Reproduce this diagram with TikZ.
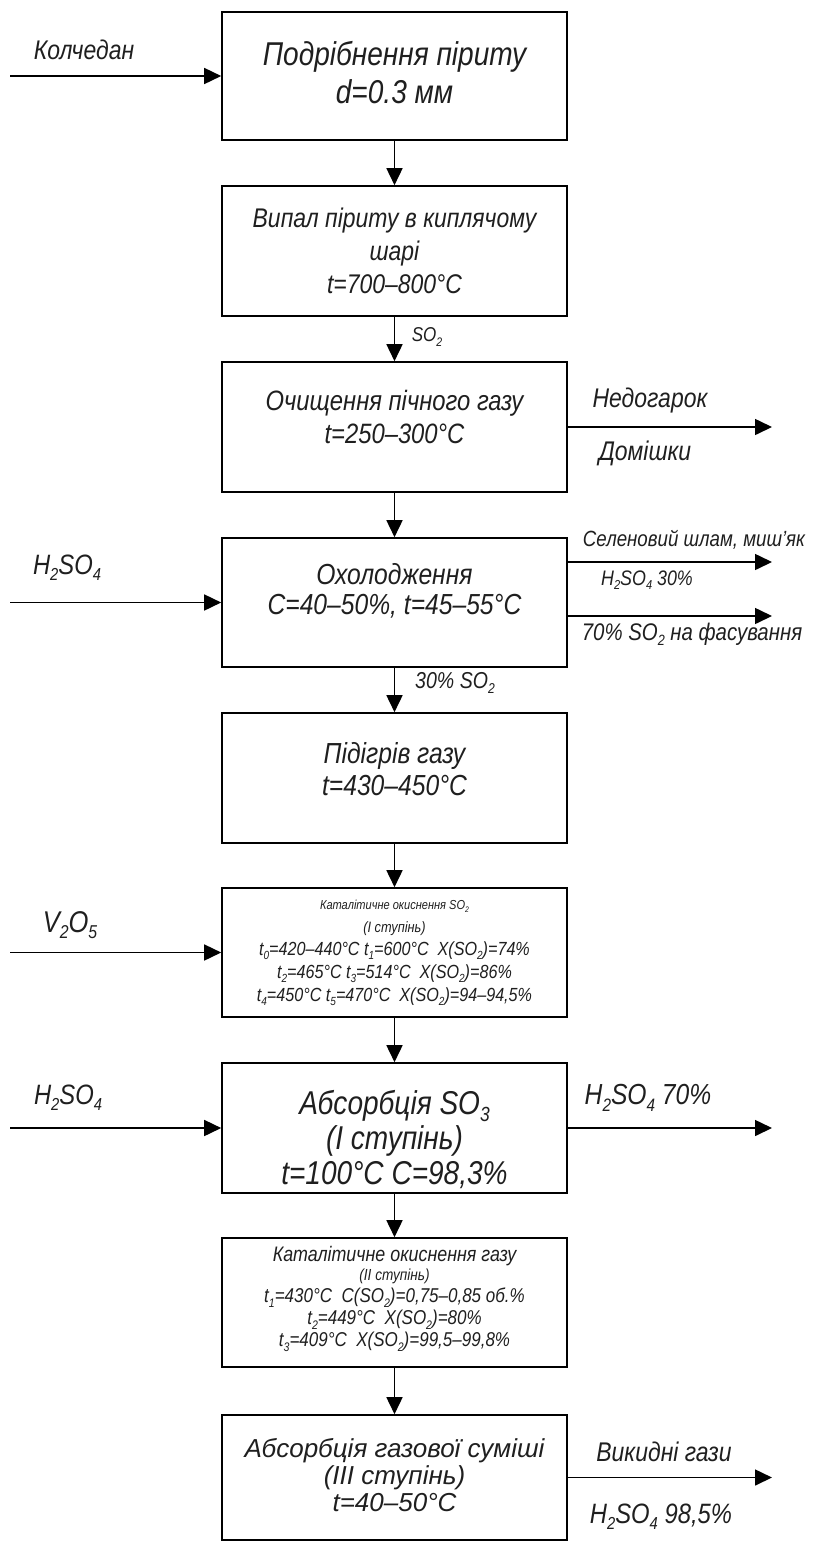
\documentclass[tikz,border=0pt]{standalone}
\usepackage{fontspec}
\usepackage{graphicx}
\usetikzlibrary{arrows.meta}
\newfontfamily\gost{Liberation Sans}[FakeStretch=0.85]
\newfontfamily\gostw{Liberation Sans}[FakeStretch=1.0]
\newcommand\fs[2]{\fontsize{#1}{#2}\selectfont\lineskiplimit=-20pt\lineskip=0pt}
\newcommand\dn[1]{\raisebox{-0.22em}{\scalebox{0.62}{#1}}}
\begin{document}
\begin{tikzpicture}[x=1pt,y=-1pt,
  box/.style={draw, line width=1.6pt, minimum width=345pt, inner sep=0pt},
  txt/.style={inner sep=0pt, align=center, text=black!88},
  lbl/.style={inner sep=0pt, text=black!88},
  arr/.style={line width=1.6pt, -{Triangle[length=17pt,width=16pt]}}]
\useasboundingbox (0,0) rectangle (813,1542);

% boxes
\node[box, minimum height=128pt] (b1) at (394.5,76) {};
\node[box, minimum height=130pt] (b2) at (394.5,251) {};
\node[box, minimum height=130pt] (b3) at (394.5,427) {};
\node[box, minimum height=129pt] (b4) at (394.5,602.5) {};
\node[box, minimum height=130pt] (b5) at (394.5,778) {};
\node[box, minimum height=129pt] (b6) at (394.5,952.5) {};
\node[box, minimum height=130pt] (b7) at (394.5,1128) {};
\node[box, minimum height=129pt] (b8) at (394.5,1302.5) {};
\node[box, minimum height=125pt] (b9) at (394.5,1477.5) {};

% box texts
\node[txt, font=\gost\itshape\fs{33}{38}] (t1) at (394.5,72.5)
  {Подрібнення піриту\\d=0.3 мм};
\node[txt, font=\gost\itshape\fs{27}{33}] (t2) at (394.5,251)
  {Випал піриту в киплячому\\шарі\\t=700–800°C};
\node[txt, font=\gost\itshape\fs{28}{33}] (t3) at (394.5,417)
  {Очищення пічного газу\\t=250–300°C};
\node[txt, font=\gost\itshape\fs{29}{30}] (t4) at (394.5,591)
  {Охолодження\\C=40–50\%, t=45–55°C};
\node[txt, font=\gost\itshape\fs{29}{32}] (t5) at (394.5,769)
  {Підігрів газу\\t=430–450°C};
\node[txt, font=\gost\itshape\fs{19}{23}] (t6) at (394.5,953)
  {{\fs{13}{14}Каталітичне окиснення SO\dn{2}}\\
   {\fs{15}{17}(І ступінь)}\\
   t\dn{0}=420–440°C t\dn{1}=600°C\ \ X(SO\dn{2})=74\%\\
   t\dn{2}=465°C t\dn{3}=514°C\ \ X(SO\dn{2})=86\%\\
   t\dn{4}=450°C t\dn{5}=470°C\ \ X(SO\dn{2})=94–94,5\%};
\node[txt, font=\gost\itshape\fs{33}{35}] (t7) at (394.5,1139)
  {Абсорбція SO\dn{3}\\(I ступінь)\\t=100°C C=98,3\%};
\node[txt, font=\gost\itshape\fs{20}{22}] (t8) at (394.5,1299)
  {{\fs{21}{22}Каталітичне окиснення газу}\\[-3pt]
   {\fs{16}{18}(ІІ ступінь)}\\
   t\dn{1}=430°C\ \ C(SO\dn{2})=0,75–0,85 об.\%\\
   t\dn{2}=449°C\ \ X(SO\dn{2})=80\%\\
   t\dn{3}=409°C\ \ X(SO\dn{2})=99,5–99,8\%};
\node[txt, font=\gostw\itshape\fs{26}{27}] (t9) at (394.5,1475)
  {Абсорбція газової суміші\\(ІІІ ступінь)\\t=40–50°C};

% vertical flow
\draw[arr] (b1.south) -- (b2.north);
\draw[arr] (b2.south) -- (b3.north);
\draw[arr] (b3.south) -- (b4.north);
\draw[arr] (b4.south) -- (b5.north);
\draw[arr] (b5.south) -- (b6.north);
\draw[arr] (b6.south) -- (b7.north);
\draw[arr] (b7.south) -- (b8.north);
\draw[arr] (b8.south) -- (b9.north);

% inputs
\coordinate (i1) at (10,76);
\coordinate (i4) at (10,602.5);
\coordinate (i6) at (10,952.5);
\coordinate (i7) at (10,1128);
\draw[arr] (i1) -- (b1.west);
\draw[arr] (i4) -- (b4.west);
\draw[arr] (i6) -- (b6.west);
\draw[arr] (i7) -- (b7.west);

% outputs
\coordinate (o3) at (772,427);
\coordinate (o4a) at (772,562);
\coordinate (o4b) at (772,616);
\coordinate (o7) at (772,1128);
\coordinate (o9) at (772,1477.5);
\draw[arr] (b3.east) -- (o3);
\draw[arr] (b4.east |- o4a) -- (o4a);
\draw[arr] (b4.east |- o4b) -- (o4b);
\draw[arr] (b7.east) -- (o7);
\draw[arr] (b9.east) -- (o9);

% labels
\node[lbl, font=\gost\itshape\fs{27}{30}] (l1) at (84,50) {Колчедан};
\node[lbl, font=\gost\itshape\fs{20}{22}] (l2) at (427,337) {SO\dn{2}};
\node[lbl, font=\gost\itshape\fs{27}{30}] (l3a) at (650,401) {Недогарок};
\node[lbl, font=\gost\itshape\fs{27}{30}] (l3b) at (645,453) {Домішки};
\node[lbl, font=\gost\itshape\fs{28}{30}] (l4) at (67,568) {H\dn{2}SO\dn{4}};
\node[lbl, font=\gost\itshape\fs{22}{24}] (l4a) at (694,540) {Селеновий шлам, миш’як};
\node[lbl, font=\gost\itshape\fs{21}{24}] (l4b) at (647,580) {H\dn{2}SO\dn{4} 30\%};
\node[lbl, font=\gost\itshape\fs{24}{26}] (l4c) at (692,634) {70\% SO\dn{2} на фасування};
\node[lbl, font=\gost\itshape\fs{23}{26}] (l5) at (455,683) {30\% SO\dn{2}};
\node[lbl, font=\gost\itshape\fs{30}{32}] (l6) at (70,925) {V\dn{2}O\dn{5}};
\node[lbl, font=\gost\itshape\fs{28}{30}] (l7) at (68,1098) {H\dn{2}SO\dn{4}};
\node[lbl, font=\gost\itshape\fs{29}{30}] (l7b) at (648,1098) {H\dn{2}SO\dn{4} 70\%};
\node[lbl, font=\gost\itshape\fs{27}{30}] (l9a) at (664,1452) {Викидні гази};
\node[lbl, font=\gost\itshape\fs{28}{30}] (l9b) at (661,1517) {H\dn{2}SO\dn{4} 98,5\%};
\end{tikzpicture}
\end{document}
